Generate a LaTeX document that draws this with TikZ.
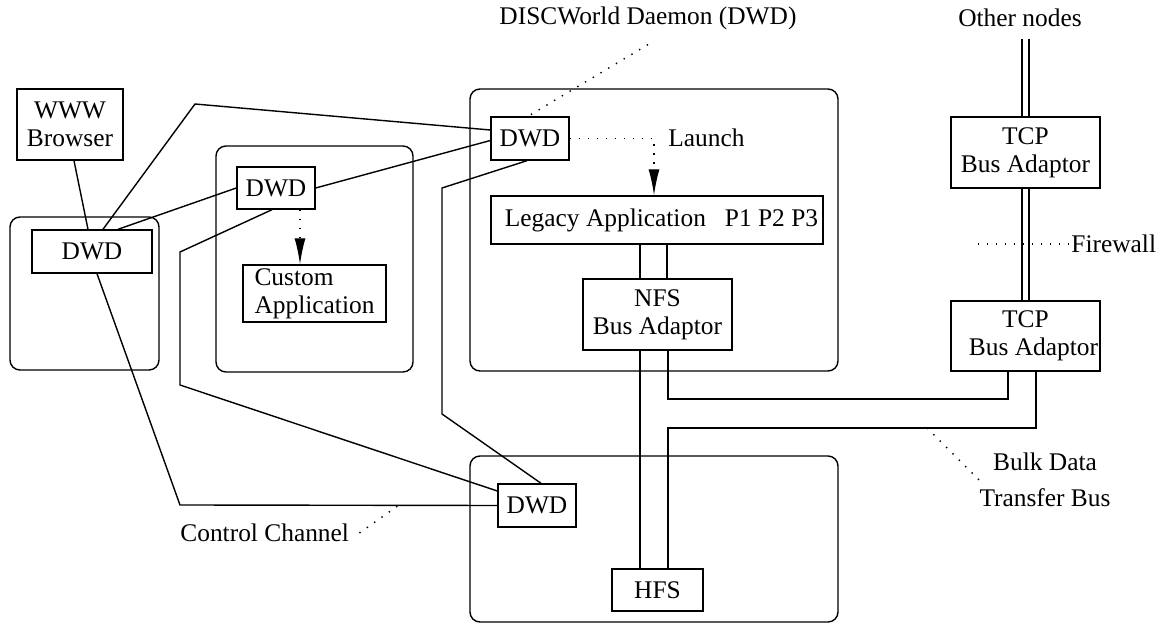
\documentclass[tikz,border=0pt]{standalone}
\usepackage{fontspec}
\setmainfont{Liberation Serif}
\usetikzlibrary{calc,arrows.meta,positioning}

\begin{document}
\begin{tikzpicture}[x=0.5pt,y=-0.5pt,font=\fontsize{12.7}{14}\selectfont,
    box/.style={draw,line width=0.7pt,align=center,inner sep=0pt},
    host/.style={draw,line width=0.7pt,rounded corners=5pt},
    link/.style={line width=0.7pt},
    note/.style={line width=0.7pt,dash pattern={on 0.7pt off 3.8pt}},
    launch/.style={note,-{Latex[length=13pt,width=5.5pt]}}]
  \useasboundingbox (0,0) rectangle (1163,624);
  \foreach \xa/\ya/\xb/\yb in {10/217/159/370,216/146/413/372,470/89/838/371,470/456/838/622}
    \draw[host] (\xa,\ya) rectangle (\xb,\yb);

  \node[box,minimum width=53pt,minimum height=35.5pt] (www) at (70,124.5) {WWW\\Browser};
  \node[box,minimum width=60pt,minimum height=21.5pt] (dwdL) at (92,251.5) {DWD};
  \node[box,minimum width=39pt,minimum height=21pt] (dwdM) at (276,188) {DWD};
  \node[box,minimum width=71.5pt,minimum height=28.5pt,align=left] (custom) at (314.5,293.5) {Custom\\Application};
  \node[box,minimum width=39pt,minimum height=21.5pt] (dwdT) at (530,138.5) {DWD};
  \node[box,minimum width=166pt,minimum height=24pt] (legacy) at (657,220) {\hspace*{4.5pt}Legacy Application\hspace{9.5pt}P1 P2 P3};
  \node[box,minimum width=74.5pt,minimum height=35.5pt] (nfs) at (657.5,314.5) {NFS\\Bus Adaptor};
  \node[box,minimum width=45.5pt,minimum height=21pt] (hfs) at (657.5,590) {HFS};
  \node[box,minimum width=39pt,minimum height=21.5pt] (dwdB) at (537,505.5) {DWD};
  \node[box,minimum width=74.5pt,minimum height=35.5pt] (tcpA) at (1025.5,152.5) {TCP\\Bus Adaptor};
  \node[box,minimum width=74.5pt,minimum height=35pt] (tcpB) at (1025.5,336) {TCP\\\hspace*{8pt}Bus Adaptor};

  \node (disc) at (648,18) {DISCWorld Daemon (DWD)};
  \node (other) at (1020,18) {Other nodes};
  \node[anchor=west,inner sep=0pt] (launch) at (668,138) {Launch};
  \node[anchor=west,inner sep=0pt] (fw) at (1071,244) {Firewall};
  \node[anchor=west,inner sep=0pt] (cc) at (180,533) {Control Channel};
  \node[align=center,inner sep=0pt] (bulk) at (1045,480) {Bulk Data\\[4pt]Transfer Bus};

  \coordinate (busA) at (0,399);
  \coordinate (busB) at (0,428);
  \coordinate (ccp) at (399,505);
  \coordinate (bulkp) at (927,428);

  \draw[link] ([xshift=2pt]www.south) -- ([xshift=-2pt]dwdL.north);
  \draw[link] ([xshift=5.5pt]dwdL.north) -- (195,104) -- ([yshift=4.25pt]dwdT.west);
  \draw[link] ([xshift=13pt]dwdL.north) -- (dwdM.west);
  \draw[link] (dwdM.east) -- ([yshift=-1pt]dwdT.west);
  \draw[link] ([xshift=2.5pt]dwdL.south) -- (180,505) -- (dwdB.west);
  \draw[link] ([xshift=-2pt]dwdM.south) -- (180,252) -- (180,385) -- ([yshift=7.25pt]dwdB.west);
  \draw[link] ([xshift=-1.5pt]dwdT.south) -- (442,188) -- (442,414) -- ([xshift=2pt]dwdB.north);

  \draw[launch] ([xshift=12pt]dwdM.south) -- ([xshift=12pt]dwdM.south |- custom.north);
  \draw[launch] (dwdT.east) -| ([xshift=-1.5pt]legacy.north);
  \draw[note] ([yshift=-4pt]disc.south) -- ([xshift=-1pt]dwdT.north);

  \foreach \s in {-8.5pt,5pt}
    \draw[link] ([xshift=\s]legacy.south) -- ([xshift=\s]legacy.south |- nfs.north);
  \draw[link] ([xshift=-8.75pt]nfs.south) -- ([xshift=-8.75pt]nfs.south |- hfs.north);
  \draw[link] ([xshift=5.25pt]nfs.south) -- ([xshift=5.25pt]nfs.south |- busA) -| ([xshift=-8.75pt]tcpB.south);
  \draw[link] ([xshift=5.25pt]hfs.north) -- ([xshift=5.25pt]hfs.north |- busB) -| ([xshift=5.25pt]tcpB.south);

  \foreach \s in {-1.75pt,1.75pt} {
    \draw[link] ([xshift=\s]tcpA.north) -- ++(0pt,38.5pt);
    \draw[link] ([xshift=\s]tcpA.south) -- ([xshift=\s]tcpB.north);
  }
  \draw[note] ([xshift=-1pt]fw.west) -- ++(-48.5pt,0pt);
  \draw[note] ([xshift=5pt]cc.east) -- (ccp);
  \draw[note] (bulkp) -- (bulk.west);
\end{tikzpicture}
\end{document}
